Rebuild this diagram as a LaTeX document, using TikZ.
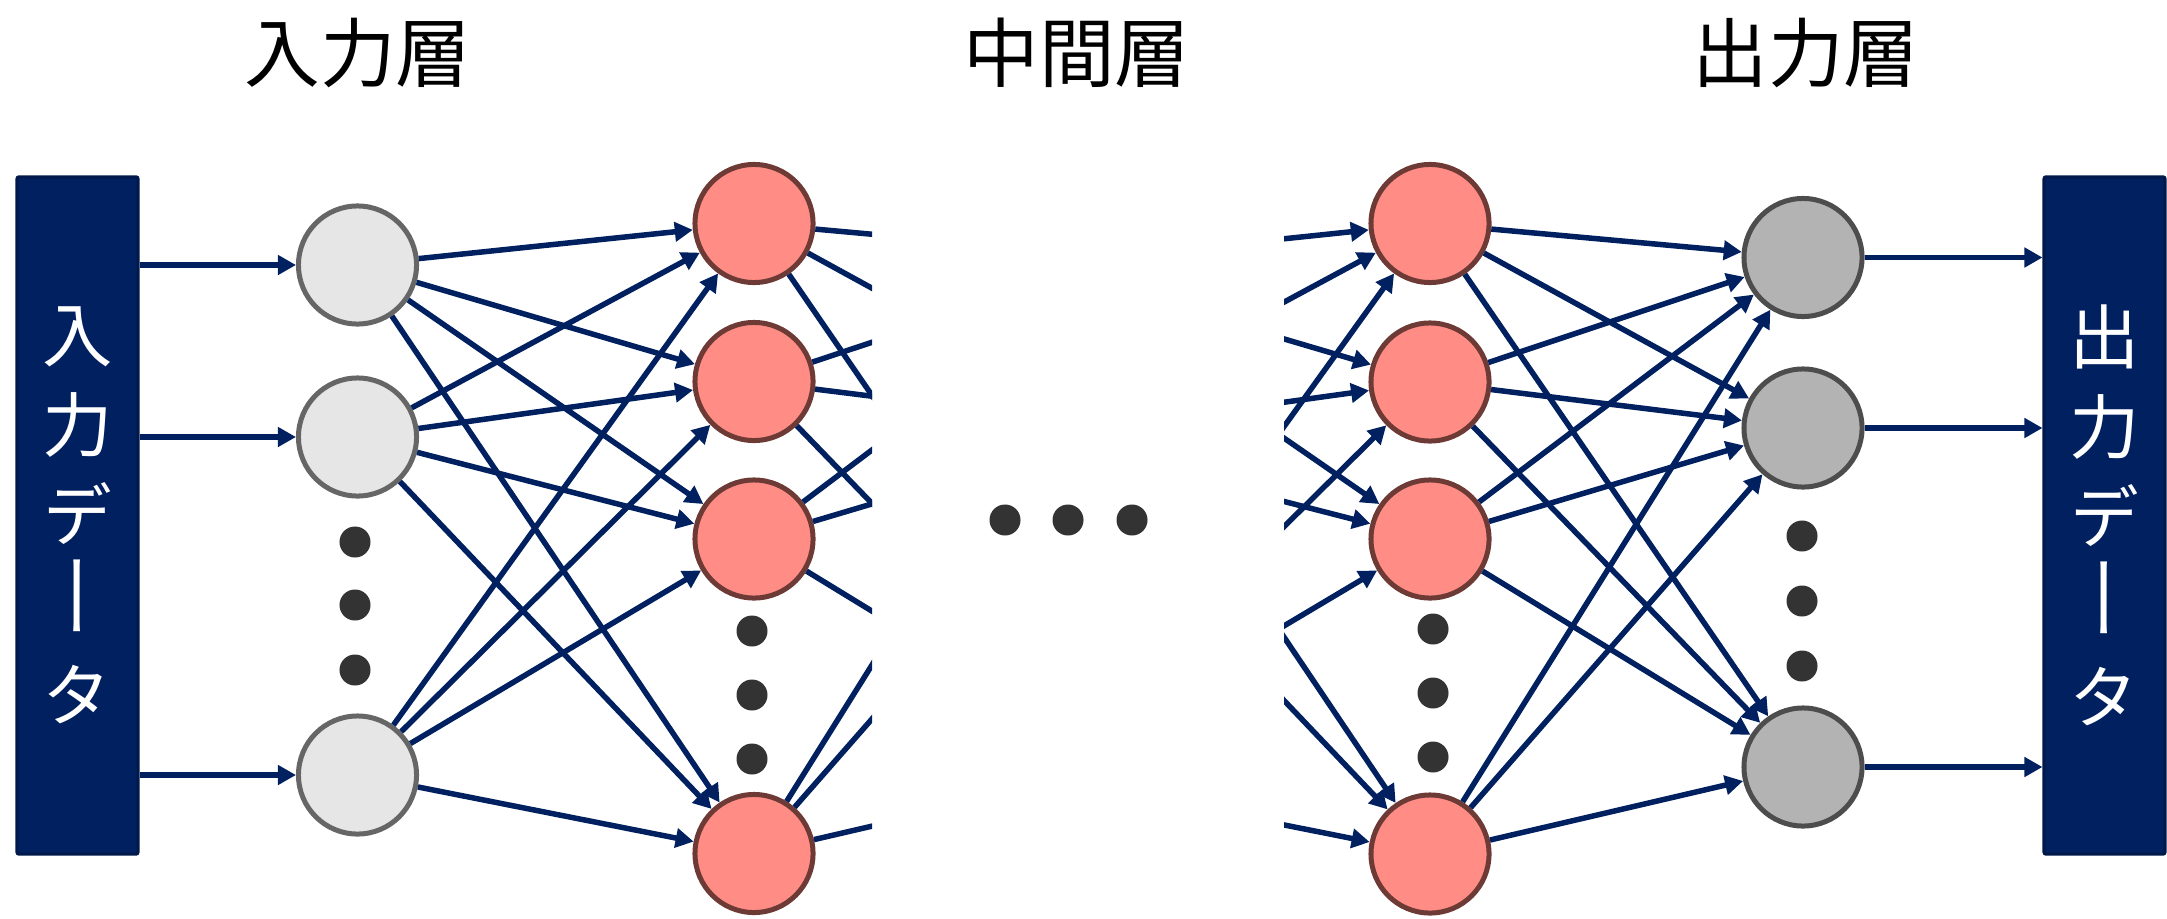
\documentclass[tikz,border=0pt]{standalone}
\usepackage{fontspec}
\newfontfamily\jpfont{Noto Sans CJK JP}
\newfontfamily\jpvert[RawFeature=+vert]{Noto Sans CJK JP}
\usetikzlibrary{arrows.meta}

\definecolor{navy}{HTML}{002060}
\definecolor{navyedge}{HTML}{00184A}
\definecolor{inFill}{HTML}{E7E6E6}
\definecolor{inEdge}{HTML}{666666}
\definecolor{hidFill}{HTML}{FF8C85}
\definecolor{hidEdge}{HTML}{6E3A35}
\definecolor{outFill}{HTML}{B3B3B3}
\definecolor{outEdge}{HTML}{4D4D4D}
\definecolor{dotc}{HTML}{333333}

% long-vowel mark stretched to a full vertical em
\newcommand{\longbar}{\scalebox{1}[1.3]{ー}}

\begin{document}
\begin{tikzpicture}[x=0.01cm, y=-0.01cm,
  neuron/.style={circle, inner sep=0pt, minimum size=1.18cm, line width=0.05cm},
  innode/.style={neuron, fill=inFill, draw=inEdge},
  hidnode/.style={neuron, fill=hidFill, draw=hidEdge},
  outnode/.style={neuron, fill=outFill, draw=outEdge},
  dot/.style={circle, fill=dotc, inner sep=0pt, minimum size=0.31cm},
  link/.style={draw=navy, line width=0.055cm, -{Triangle[length=0.18cm,width=0.19cm]}},
  databox/.style={fill=navy, draw=navyedge, line width=0.03cm, rounded corners=0.02cm,
    minimum width=1.21cm, minimum height=6.77cm, inner sep=0pt,
    text=white, align=center, font=\jpvert\fontsize{20pt}{25.6pt}\selectfont},
  title/.style={font=\jpfont\fontsize{21.5pt}{24pt}\selectfont}
]
\useasboundingbox (0,0) rectangle (2167,918);

% layer titles
\node[title] (t1) at (358,53) {入力層};
\node[title] (t2) at (1077,53) {中間層};
\node[title] (t3) at (1806,53) {出力層};

% data boxes, text set with vertical glyph forms
\node[databox] (inbox) at (77.5,515.5) {入\\力\\デ\\\longbar\\タ};
\node[databox] (outbox) at (2104.5,515.5) {出\\力\\デ\\\longbar\\タ};

% input layer
\node[innode] (I1) at (357.5,265) {};
\node[innode] (I2) at (357.5,437) {};
\node[innode] (I3) at (357.5,775) {};
% first hidden layer
\node[hidnode] (H1) at (754,223.5) {};
\node[hidnode] (H2) at (754,381.5) {};
\node[hidnode] (H3) at (754,539) {};
\node[hidnode] (H4) at (754,853.5) {};
% last hidden layer
\node[hidnode] (G1) at (1430,223.5) {};
\node[hidnode] (G2) at (1430,382) {};
\node[hidnode] (G3) at (1430,539) {};
\node[hidnode] (G4) at (1430,854) {};
% output layer
\node[outnode] (O1) at (1803,257.5) {};
\node[outnode] (O2) at (1803,428) {};
\node[outnode] (O3) at (1803,767) {};

% ellipsis dots
\foreach \y [count=\i] in {542,605,670} \node[dot] (di\i) at (355,\y) {};
\foreach \y [count=\i] in {631,695,759} \node[dot] (dh\i) at (752,\y) {};
\foreach \y [count=\i] in {629,693,757} \node[dot] (dg\i) at (1433,\y) {};
\foreach \y [count=\i] in {536,601,666} \node[dot] (do\i) at (1802,\y) {};
\foreach \x [count=\i] in {1005,1068,1132} \node[dot] (dm\i) at (\x,520) {};

% data in and out
\foreach \n in {I1,I2,I3} \draw[link] (inbox.east |- \n) -- (\n);
\foreach \n in {O1,O2,O3} \draw[link] (\n) -- (\n -| outbox.west);

% input -> first hidden
\foreach \a in {I1,I2,I3}
  \foreach \b in {H1,H2,H3,H4}
    \draw[link] (\a) -- (\b);

% last hidden -> output
\foreach \a in {G1,G2,G3,G4}
  \foreach \b in {O1,O2,O3}
    \draw[link] (\a) -- (\b);

% connections into the omitted middle layers, cut off
\coordinate (vo1) at (1127,257.5);
\coordinate (vo2) at (1127,428);
\coordinate (vo3) at (1127,767);
\coordinate (vi1) at (1033.5,265);
\coordinate (vi2) at (1033.5,437);
\coordinate (vi3) at (1033.5,775);
\begin{scope}
  \clip (700,0) rectangle (872,918);
  \foreach \a in {H1,H2,H3,H4}
    \foreach \b in {vo1,vo2,vo3}
      \draw[link] (\a) -- (\b);
\end{scope}
\begin{scope}
  \clip (1284,0) rectangle (1500,918);
  \foreach \a in {vi1,vi2,vi3}
    \foreach \b in {G1,G2,G3,G4}
      \draw[link] (\a) -- (\b);
\end{scope}
\end{tikzpicture}
\end{document}
